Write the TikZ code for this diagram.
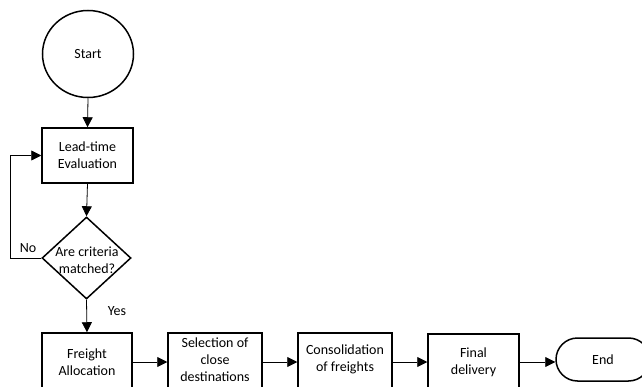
\documentclass[tikz,border=0pt]{standalone}
\usepackage{fontspec}
\setmainfont{Carlito}
\usetikzlibrary{shapes.geometric,arrows.meta}
\begin{document}
\begin{tikzpicture}[x=1pt,y=-1pt,
  every node/.style={font=\fontsize{14}{17}\selectfont},
  shapebox/.style={draw, line width=1.5pt, inner sep=0pt, align=center},
  proc/.style={shapebox, rectangle, minimum width=91pt, minimum height=56pt},
  conn/.style={line width=0.8pt, -{Triangle[length=10pt,width=10pt]}},
  lbl/.style={inner sep=0pt}
]
\useasboundingbox (0,0) rectangle (642,387);
\clip (0,0) rectangle (642,387);
\fill[white] (0,0) rectangle (642,387);

\node[shapebox, ellipse, minimum width=91pt, minimum height=87pt] (start) at (88,54) {Start};
\node[proc, minimum height=55pt] (lead) at (87.5,155.5) {Lead-time\\Evaluation};
\node[shapebox, diamond, minimum width=89pt, minimum height=82pt] (dec) at (86.5,258) {};
\node[lbl, align=center] (dectext) at (87,260) {Are criteria\\matched?};
\node[proc, minimum width=90pt, minimum height=58pt] (freight) at (87,362) {Freight\\Allocation};
\node[proc, minimum width=94pt, minimum height=58pt] (sel) at (215,362) {};
\node[lbl, align=center] (seltext) at (215,359.5) {Selection of\\close\\destinations};
\node[proc, minimum width=94pt, minimum height=58pt] (cons) at (345,362) {};
\node[lbl, align=center] (constext) at (345,359.5) {Consolidation\\of freights};
\node[proc, minimum width=91pt, minimum height=56pt] (final) at (473.5,362) {Final\\delivery};
\node[shapebox, rectangle, rounded corners=21.5pt, minimum width=94pt, minimum height=43pt] (end) at (603,359.5) {End};

\coordinate (fb) at (10,258);
\draw[conn] (start.south) -- (lead.north);
\draw[conn] (lead.south) -- (dec.north);
\draw[conn] (dec.south) -- (freight.north);
\draw[conn] (dec.west) -- (fb) |- (lead.west);
\draw[conn] (freight.east) -- (sel.west);
\draw[conn] (sel.east) -- (cons.west);
\draw[conn] (cons.east) -- (final.west);
\draw[conn] (final.east) -- (final.east -| end.west);

\node[lbl] (no) at (28,248) {No};
\node[lbl] (yes) at (117,311) {Yes};
\end{tikzpicture}
\end{document}
